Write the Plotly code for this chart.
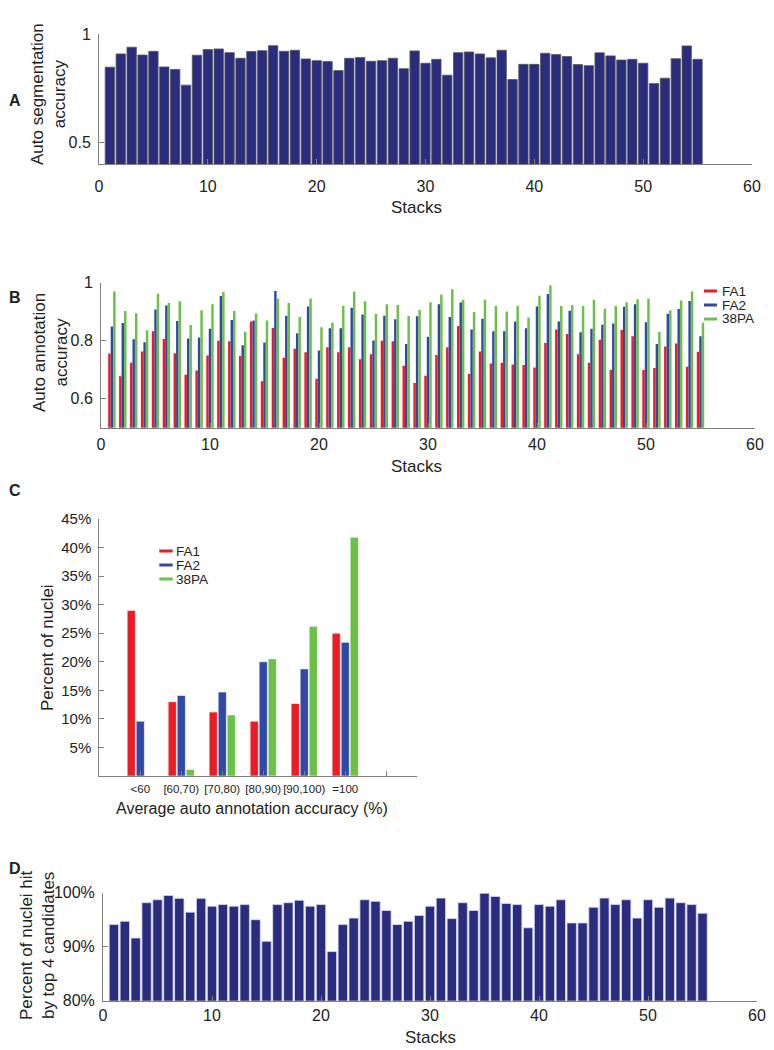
import plotly.graph_objects as go

W, H = 774, 1050

# ---------------- data ----------------
stacks = list(range(1, 56))

seg_accuracy = [0.847, 0.908, 0.939, 0.903, 0.920, 0.848, 0.836, 0.764, 0.902, 0.928,
                0.931, 0.914, 0.888, 0.919, 0.923, 0.946, 0.920, 0.925, 0.885, 0.877,
                0.873, 0.831, 0.888, 0.891, 0.874, 0.877, 0.888, 0.840, 0.922, 0.865,
                0.883, 0.810, 0.914, 0.917, 0.908, 0.890, 0.925, 0.790, 0.860, 0.860,
                0.911, 0.905, 0.896, 0.859, 0.854, 0.913, 0.899, 0.880, 0.883, 0.865,
                0.771, 0.796, 0.886, 0.945, 0.883]

ann_FA1 = [0.756, 0.677, 0.724, 0.763, 0.833, 0.806, 0.757, 0.683, 0.697, 0.749,
           0.800, 0.798, 0.747, 0.866, 0.660, 0.844, 0.741, 0.772, 0.760, 0.669,
           0.777, 0.760, 0.777, 0.736, 0.753, 0.800, 0.798, 0.714, 0.654, 0.679,
           0.751, 0.777, 0.851, 0.685, 0.763, 0.721, 0.724, 0.718, 0.716, 0.708,
           0.792, 0.839, 0.823, 0.753, 0.724, 0.803, 0.699, 0.837, 0.815, 0.699,
           0.706, 0.780, 0.790, 0.710, 0.762]
ann_FA2 = [0.849, 0.861, 0.805, 0.795, 0.908, 0.921, 0.868, 0.808, 0.811, 0.841,
           0.954, 0.871, 0.784, 0.870, 0.794, 0.971, 0.886, 0.826, 0.918, 0.766,
           0.843, 0.843, 0.914, 0.890, 0.801, 0.886, 0.874, 0.789, 0.884, 0.814,
           0.926, 0.882, 0.932, 0.839, 0.876, 0.833, 0.833, 0.866, 0.843, 0.918,
           0.961, 0.866, 0.903, 0.829, 0.841, 0.855, 0.859, 0.917, 0.926, 0.864,
           0.789, 0.893, 0.909, 0.937, 0.815]
ann_38PA = [0.970, 0.902, 0.895, 0.836, 0.962, 0.930, 0.936, 0.854, 0.905, 0.926,
            0.968, 0.902, 0.831, 0.894, 0.870, 0.945, 0.930, 0.882, 0.945, 0.846,
            0.862, 0.920, 0.970, 0.936, 0.892, 0.926, 0.923, 0.885, 0.906, 0.933,
            0.959, 0.977, 0.941, 0.899, 0.941, 0.920, 0.901, 0.920, 0.880, 0.955,
            0.990, 0.920, 0.923, 0.920, 0.941, 0.910, 0.920, 0.933, 0.943, 0.945,
            0.830, 0.905, 0.939, 0.970, 0.862]

bins = ["<60", "[60,70)", "[70,80)", "[80,90)", "[90,100)", "=100", ""]
hist_FA1 = [29.0, 13.0, 11.2, 9.6, 12.7, 25.0, 0.0]
hist_FA2 = [9.6, 14.1, 14.7, 20.0, 18.75, 23.4, 0.0]
hist_38PA = [0.0, 1.15, 10.7, 20.5, 26.2, 41.8, 0.0]

top4_hit = [94.1, 94.7, 91.6, 98.15, 98.7, 99.5, 98.95, 96.4, 98.95, 97.5,
            97.8, 97.5, 97.8, 95.0, 91.0, 97.8, 98.15, 98.6, 97.5, 97.8,
            89.1, 94.1, 95.3, 98.7, 98.4, 96.7, 94.1, 94.7, 95.8, 97.5,
            99.0, 95.2, 98.15, 96.7, 99.9, 99.3, 98.0, 97.8, 93.5, 97.8,
            97.5, 98.7, 94.4, 94.4, 97.3, 99.0, 97.8, 98.7, 95.3, 98.7,
            97.3, 99.0, 98.15, 97.8, 96.2]

series_names = ["FA1", "FA2", "38PA"]

# ---------------- style ----------------
NAVY = "#2a2d7d"
RED = "#ec1c24"
BLUE = "#3049a6"
GREEN = "#6cbf47"
AXC = "#808080"
TXT = "#222222"
FONT = "Liberation Sans, Arial, Helvetica, sans-serif"


def px(x):
    return x / W


def py(y):
    return 1 - y / H


fig = go.Figure()

# Panel A
fig.add_trace(go.Bar(x=stacks, y=seg_accuracy, width=0.86, xaxis="x", yaxis="y",
                     marker=dict(color=NAVY, line=dict(color="#555555", width=0.8)),
                     showlegend=False))

# Panel B
cols = [RED, BLUE, GREEN]
for name, vals, col, off in zip(series_names, [ann_FA1, ann_FA2, ann_38PA], cols,
                                [-0.34, -0.113, 0.114]):
    fig.add_trace(go.Bar(x=stacks, y=vals, width=0.226, offset=off, xaxis="x2", yaxis="y2",
                         marker=dict(color=col, line=dict(width=0)), name=name,
                         showlegend=False))

# Panel C
xc = list(range(1, len(bins) + 1))
for name, vals, col, off in zip(series_names, [hist_FA1, hist_FA2, hist_38PA], cols,
                                [-0.32, -0.1, 0.12]):
    fig.add_trace(go.Bar(x=xc, y=vals, width=0.2, offset=off, xaxis="x3", yaxis="y3",
                         marker=dict(color=col, line=dict(color="white", width=0.6)),
                         name=name, showlegend=False))

# Panel D
fig.add_trace(go.Bar(x=stacks, y=top4_hit, width=0.86, xaxis="x4", yaxis="y4",
                     marker=dict(color=NAVY, line=dict(color="#d8dbee", width=0.8)),
                     showlegend=False))

tickfont = dict(family=FONT, size=16, color=TXT)
common_ax = dict(showline=True, linecolor=AXC, linewidth=1, ticks="inside", ticklen=5,
                 tickcolor=AXC, showgrid=False, zeroline=False, tickfont=tickfont,
                 fixedrange=True, automargin=False, tickangle=0)

fig.update_layout(
    width=W, height=H,
    margin=dict(l=0, r=0, t=0, b=0, pad=0),
    paper_bgcolor="white", plot_bgcolor="white",
    barmode="overlay",
    font=dict(family=FONT, color=TXT),
    xaxis=dict(domain=[px(99), px(752)], range=[0, 60], anchor="y",
               tickvals=[0, 10, 20, 30, 40, 50, 60], ticklabelstandoff=8, **common_ax),
    yaxis=dict(domain=[py(164), py(34)], range=[0.4, 1], anchor="x",
               tickvals=[0.5, 1], ticktext=["0.5", "1"], ticklabelstandoff=4, **common_ax),
    xaxis2=dict(domain=[px(101), px(755)], range=[0, 60], anchor="y2",
                tickvals=[0, 10, 20, 30, 40, 50, 60], ticklabelstandoff=2, **common_ax),
    yaxis2=dict(domain=[py(427.7), py(282.7)], range=[0.5, 1], anchor="x2",
                tickvals=[0.6, 0.8, 1], ticktext=["0.6", "0.8", "1"], ticklabelstandoff=4,
                **common_ax),
    xaxis3=dict(domain=[px(99.3), px(417)], range=[0, 7.75], anchor="y3",
                tickvals=xc, ticktext=bins, ticklabelstandoff=2,
                **{**common_ax, "tickfont": dict(family=FONT, size=11.5, color=TXT)}),
    yaxis3=dict(domain=[py(776), py(519)], range=[0, 45], anchor="x3",
                tickvals=[5, 10, 15, 20, 25, 30, 35, 40, 45],
                ticktext=["5%", "10%", "15%", "20%", "25%", "30%", "35%", "40%", "45%"],
                ticklabelstandoff=4,
                **{**common_ax, "tickfont": dict(family=FONT, size=15, color=TXT)}),
    xaxis4=dict(domain=[px(103), px(757)], range=[0, 60], anchor="y4",
                tickvals=[0, 10, 20, 30, 40, 50, 60], ticklabelstandoff=0, **common_ax),
    yaxis4=dict(domain=[py(1000.7), py(892.7)], range=[80, 100], anchor="x4",
                tickvals=[80, 90, 100], ticktext=["80%", "90%", "100%"], ticklabelstandoff=4,
                **common_ax),
)

annotations = []


def add_text(text, x, y, size=17, angle=0, bold=False, xanchor="center"):
    annotations.append(dict(text=f"<b>{text}</b>" if bold else text,
                            x=px(x), y=py(y), xref="paper", yref="paper",
                            xanchor=xanchor, yanchor="middle", showarrow=False,
                            textangle=angle,
                            font=dict(family=FONT, size=size, color=TXT)))


# panel letters
add_text("A", 15, 101, size=16, bold=True)
add_text("B", 15, 298, size=16, bold=True)
add_text("C", 15, 490, size=16, bold=True)
add_text("D", 15, 868, size=16, bold=True)

# axis titles
add_text("Auto segmentation<br>accuracy", 48, 94, angle=-90)
add_text("Stacks", 416, 207)
add_text("Auto annotation<br>accuracy", 50, 352, angle=-90)
add_text("Stacks", 416, 466)
add_text("Percent of nuclei", 47, 648, angle=-90)
add_text("Average auto annotation accuracy (%)", 252, 808, size=16)
add_text("Percent of nuclei hit<br>by top 4 candidates", 37, 945, angle=-90)
add_text("Stacks", 430, 1037)

# legends (B and C)
shapes = []
for (lx0, lx1, tx, ys) in [(704, 717, 720, [291, 305, 319]),
                           (159.3, 172.7, 174, [551, 565, 579])]:
    for name, col, yy in zip(series_names, cols, ys):
        shapes.append(dict(type="line", xref="paper", yref="paper",
                           x0=px(lx0), x1=px(lx1), y0=py(yy), y1=py(yy),
                           line=dict(color=col, width=3)))
        add_text(name, tx, yy, size=13.5, xanchor="left")

fig.update_layout(annotations=annotations, shapes=shapes)

fig.write_html("out.html", config={"displayModeBar": False},
               post_script="document.body.style.margin='0px';")
